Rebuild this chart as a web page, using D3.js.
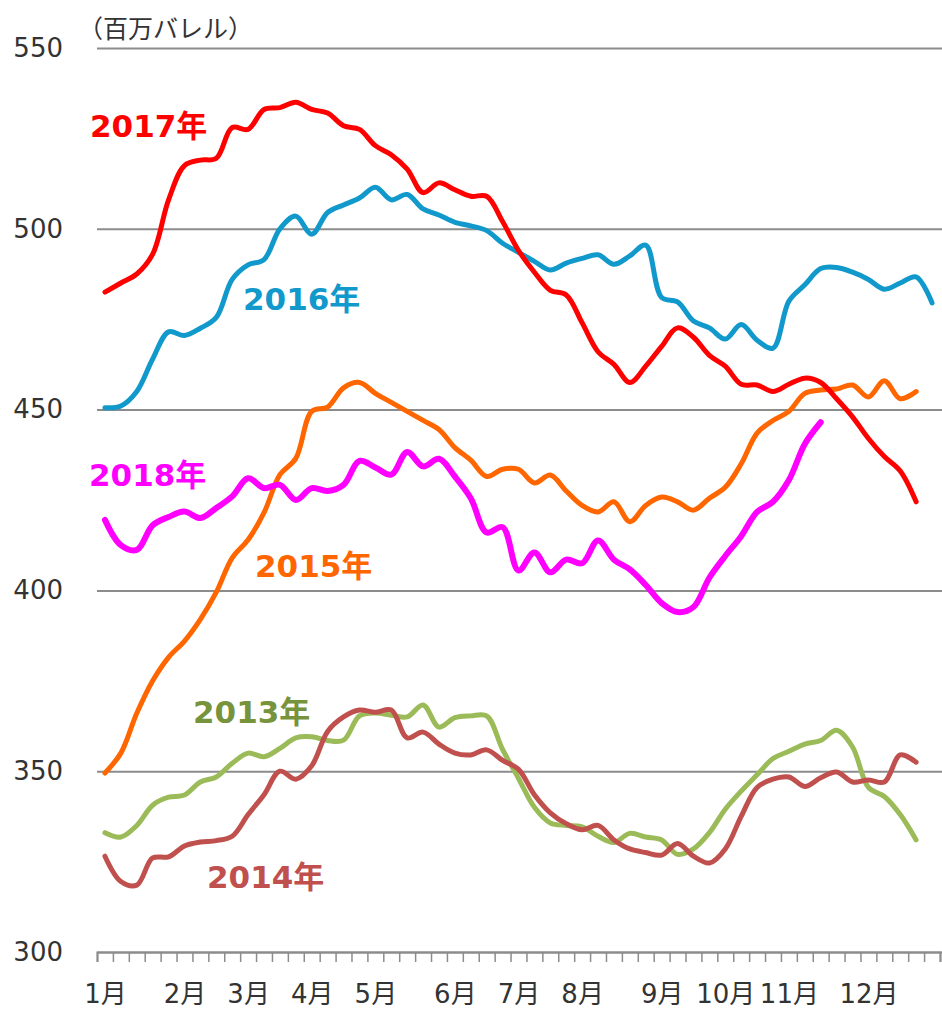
<!DOCTYPE html>
<html>
<head>
<meta charset="utf-8">
<script src="https://cdn.jsdelivr.net/npm/d3@7"></script>
<style>
  body { margin: 0; background: #fff; }
  svg { display: block; font-family: "DejaVu Sans", "Noto Sans CJK JP", sans-serif; }
</style>
</head>
<body>
<svg id="chart" width="942" height="1010"></svg>
<script>
// weekly index 0..52, month label at first week of each month
const monthWeeks = [0, 5, 9, 13, 17, 22, 26, 30, 35, 39, 43, 48];
const monthNames = ["1月","2月","3月","4月","5月","6月","7月","8月","9月","10月","11月","12月"];
const yTicks = [300, 350, 400, 450, 500, 550];

const v2013 = [333,331.8,335,340.6,342.8,343.4,347,348.4,352.2,355,354,356.3,359.2,359.5,358.5,358.6,
  365.3,366.1,365.5,365,368.3,362.2,364.8,365.3,365.3,356,348,340,335.7,335,334.6,332,330.3,332.8,
  331.8,331,327,328.5,333,339.5,344.5,349,353.5,355.5,357.5,358.5,361.3,356.7,345.5,343,338,331];
const v2014 = [326.5,319.5,318.5,326,326.3,329.3,330.4,330.8,332,338,343.5,350,347.8,351.5,361,365,
  366.9,366.3,366.9,359.2,360.8,357.5,355,354.5,355.9,353,350.5,343.5,338.5,335.5,333.8,335,331,328.5,
  327.5,326.8,330,326.5,324.6,328.5,337.5,345.5,347.8,348.4,345.8,348.2,349.8,347,347.6,347,354.5,352.5];
const v2015 = [349.5,355,366,375,381.5,386,392,399.5,409,414,421.5,432,436.5,449.5,450.7,456,457.5,
  454.5,452,449.5,447,444.5,439.5,436,431.5,433.5,433.5,429.7,431.9,427.5,423.5,421.7,424.5,419,423.5,
  425.8,424.5,422.2,425.5,428.5,435,443.5,447,449.5,454.5,455.4,455.7,456.8,453.5,458,453,455];
const v2016 = [450.5,451,455,464,471.5,470.5,472.5,475.5,486,490,491.5,500,503.5,498.5,504.5,506.6,
  508.5,511.5,508,509.5,505.5,503.8,501.8,500.8,499.5,496,493.5,491,488.6,490.5,491.8,492.8,490.2,
  492.5,495.5,481,479.8,474.5,472.6,469.5,473.5,469.2,467,480,484.5,489,489.3,488,486,483.3,485,486.7,479.5];
const v2017 = [482.5,485,487.5,493,508,517.5,519,519.5,528,527.5,533,533.5,535,533,532,528.5,527.5,
  523,520.5,516.5,510,512.7,510.8,509,509,502,494,488,483,481.7,474,466,462.5,457.5,462,467.5,472.6,
  470,465,462,457,456.8,455,457,458.7,457.5,453,448,442,437,433,424.5];
const v2018 = [419.5,412.5,411.2,418,420.3,421.8,420,422.8,426,431,428.3,429.2,425,428.3,427.5,429.2,
  435.8,434,432,438.3,434.3,436.4,431.5,425.5,416,417.5,405.5,410.5,405,408.5,407.5,413.8,408.5,405.8,
  401.5,396.5,394,395.4,403.5,409.5,415,421.7,424.5,430.5,440.5,446.5];

const seriesNames = ["2013年","2014年","2015年","2016年","2017年","2018年"];
const seriesValues = [v2013, v2014, v2015, v2016, v2017, v2018];
const lineColors = ["#9BBB59","#C0504D","#FF6600","#1199CC","#FF0000","#FF00FF"];
const labelColors = ["#77933C","#C0504D","#FF6600","#1199CC","#FF0000","#FF00FF"];
const labelPos = [[193,723],[207,888],[255,577],[243,310],[90,137],[89,486]];

const svg = d3.select("#chart");
const plotLeft = 97, plotRight = 940, plotTop = 48, plotBottom = 952;
const axisFont = '"DejaVu Sans", "Noto Sans CJK JP", sans-serif';

const x = d3.scaleLinear().domain([0, 53]).range([plotLeft, plotRight]);
const y = d3.scaleLinear().domain([300, 550]).range([plotBottom, plotTop]);

// grid + y labels
const yAxis = svg.append("g")
    .attr("transform", `translate(${plotLeft},0)`)
    .call(d3.axisLeft(y).tickValues(yTicks).tickSize(-(plotRight - plotLeft + 2)).tickPadding(34))
    .attr("font-family", axisFont).attr("font-size", 26);
yAxis.select(".domain").remove();
yAxis.selectAll("line").attr("stroke", "#8c8c8c").attr("stroke-width", 2);
yAxis.selectAll("text").attr("fill", "#333");

// weekly tick marks
const xTicks = svg.append("g")
    .attr("transform", `translate(0,${plotBottom})`)
    .call(d3.axisBottom(x).tickValues(d3.range(54)).tickSize(10).tickFormat(""));
xTicks.select(".domain").attr("stroke", "#8c8c8c").attr("stroke-width", 2);
xTicks.selectAll("line").attr("stroke", "#8c8c8c").attr("stroke-width", 1.5);

// month labels
const xLabels = svg.append("g")
    .attr("transform", `translate(0,${plotBottom})`)
    .call(d3.axisBottom(x).tickValues(monthWeeks.map(d => d + 0.5)).tickSize(0).tickPadding(33)
      .tickFormat((d, i) => monthNames[i]))
    .attr("font-family", axisFont).attr("font-size", 26);
xLabels.select(".domain").remove();
xLabels.selectAll("text").attr("fill", "#333");

// unit
svg.append("text")
    .attr("x", 78).attr("y", 38)
    .attr("fill", "#333").attr("font-size", 25)
    .text("（百万バレル）");

const line = d3.line()
    .x((d, i) => x(i + 0.5))
    .y(d => y(d))
    .curve(d3.curveCatmullRom.alpha(0.5));

svg.append("g")
  .selectAll("path")
  .data(seriesValues)
  .enter().append("path")
    .attr("d", line)
    .attr("fill", "none")
    .attr("stroke", (d, i) => lineColors[i])
    .attr("stroke-width", (d, i) => i == 5 ? 6 : 5)
    .attr("stroke-linejoin", "round")
    .attr("stroke-linecap", "round");

svg.append("g")
  .selectAll("text")
  .data(seriesNames)
  .enter().append("text")
    .attr("x", (d, i) => labelPos[i][0])
    .attr("y", (d, i) => labelPos[i][1])
    .attr("fill", (d, i) => labelColors[i])
    .attr("font-size", 31)
    .attr("font-weight", "bold")
    .text(d => d);
</script>
</body>
</html>
